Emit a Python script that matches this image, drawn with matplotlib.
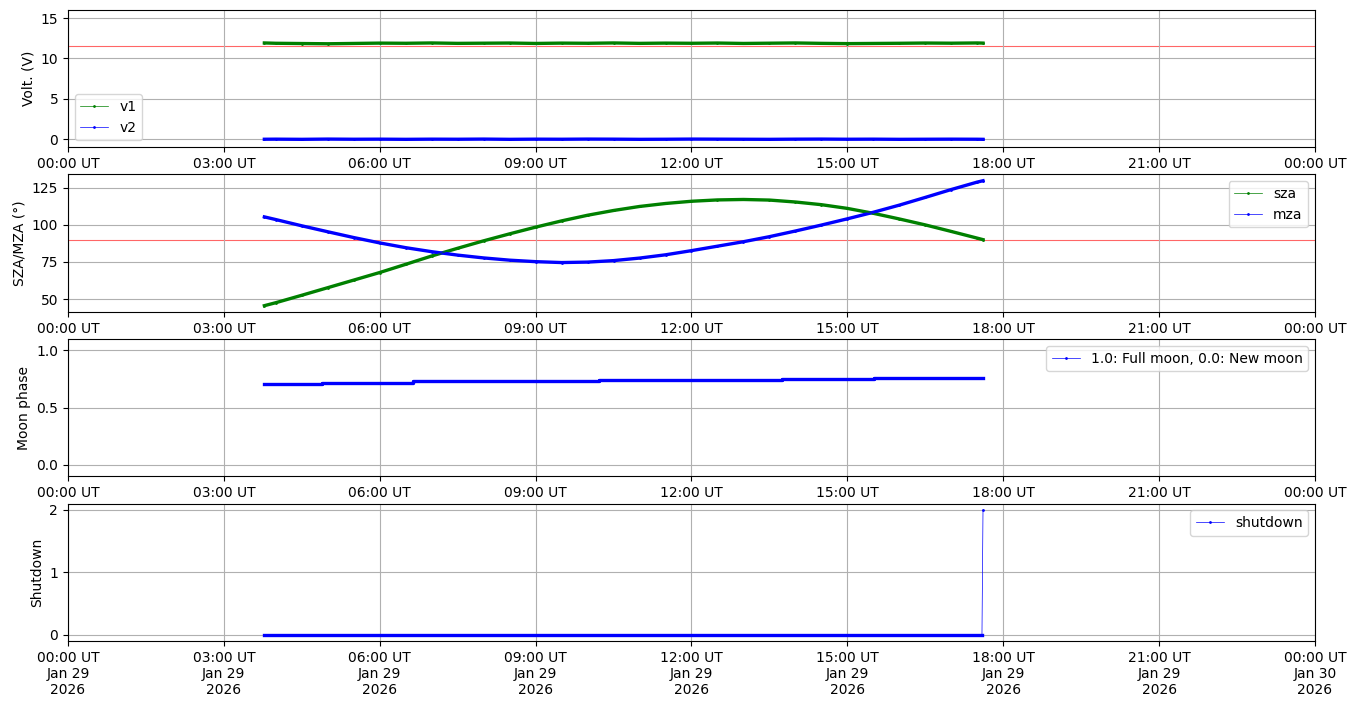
import datetime as dt
import matplotlib
matplotlib.use('Agg')
import matplotlib.pyplot as plt
import matplotlib.dates as mdates

day = dt.datetime(2026, 1, 29)

# sample times (hours UT) for the housekeeping series
hours = [3.78, 4.0, 4.5, 5.0, 5.5, 6.0, 6.5, 7.0, 7.5, 8.0, 8.5, 9.0, 9.5, 10.0, 10.5,
         11.0, 11.5, 12.0, 12.5, 13.0, 13.5, 14.0, 14.5, 15.0, 15.5, 16.0, 16.5, 17.0,
         17.5, 17.61]

v1 = [11.92, 11.88, 11.85, 11.82, 11.86, 11.90, 11.88, 11.92, 11.87, 11.89, 11.91, 11.86,
      11.90, 11.88, 11.92, 11.87, 11.90, 11.88, 11.91, 11.86, 11.89, 11.92, 11.87, 11.84,
      11.86, 11.88, 11.91, 11.89, 11.92, 11.90]
v2 = [0.01, 0.02, 0.0, 0.03, 0.01, 0.02, 0.0, 0.02, 0.01, 0.03, 0.0, 0.02, 0.01, 0.03, 0.02,
      0.0, 0.01, 0.03, 0.02, 0.01, 0.0, 0.02, 0.03, 0.01, 0.02, 0.0, 0.01, 0.02, 0.01, 0.0]

sza = [45.6, 47.6, 52.6, 57.7, 62.8, 67.9, 73.4, 79.0, 84.2, 89.2, 93.9, 98.4, 102.6, 106.4,
       109.6, 112.3, 114.3, 115.8, 116.7, 117.0, 116.6, 115.3, 113.5, 111.0, 107.7, 103.9,
       99.9, 95.5, 91.0, 90.0]
mza = [105.3, 103.5, 99.3, 95.3, 91.4, 87.8, 84.6, 81.9, 79.6, 77.7, 76.2, 75.2, 74.6, 74.9,
       75.9, 77.6, 79.8, 82.6, 85.6, 88.6, 92.0, 95.8, 99.8, 104.0, 108.4, 113.2, 118.4,
       123.7, 128.7, 129.6]

# moon phase changes in steps of 0.01
moon_hours = [3.78, 4.88, 6.65, 10.22, 13.74, 15.52, 17.61]
moon_phase = [0.71, 0.72, 0.73, 0.74, 0.75, 0.76, 0.76]

shut_hours = [3.78, 17.59, 17.61]
shutdown = [0, 0, 2]

v_limit = 11.5
sza_limit = 90


def to_time(hh):
    return [day + dt.timedelta(hours=h) for h in hh]


t = to_time(hours)
t_moon = to_time(moon_hours)
t_shut = to_time(shut_hours)

fig, axes = plt.subplots(4, 1, figsize=(13.56, 7.07), dpi=100)
fig.subplots_adjust(left=0.0501, right=0.9698, top=0.9859, bottom=0.0934, hspace=0.197)

band = 2.4  # the dense 1-min samples read as a thick band

ax = axes[0]
ax.axhline(v_limit, color='red', lw=0.8, alpha=0.6, zorder=1)
ax.plot(t, v1, color='green', lw=band, zorder=2)
ax.plot(t, v2, color='blue', lw=band, zorder=2)
ax.plot(t, v1, '.-', color='green', lw=0.5, ms=2, label='v1', zorder=3)
ax.plot(t, v2, '.-', color='blue', lw=0.5, ms=2, label='v2', zorder=3)
ax.set_ylim(-1, 16)
ax.set_ylabel('Volt. (V)')
ax.legend(loc='lower left')

ax = axes[1]
ax.axhline(sza_limit, color='red', lw=0.8, alpha=0.6, zorder=1)
ax.plot(t, sza, color='green', lw=band, zorder=2)
ax.plot(t, mza, color='blue', lw=band, zorder=2)
ax.plot(t, sza, '.-', color='green', lw=0.5, ms=2, label='sza', zorder=3)
ax.plot(t, mza, '.-', color='blue', lw=0.5, ms=2, label='mza', zorder=3)
ax.set_ylabel('SZA/MZA (°)')
ax.legend(loc='upper right')

ax = axes[2]
ax.plot(t_moon, moon_phase, color='blue', lw=band, drawstyle='steps-post', zorder=2)
ax.plot(t_moon, moon_phase, '.-', color='blue', lw=0.5, ms=2, drawstyle='steps-post',
        label='1.0: Full moon, 0.0: New moon', zorder=3)
ax.set_ylim(-0.1, 1.1)
ax.set_yticks([0.0, 0.5, 1.0])
ax.set_ylabel('Moon phase')
ax.legend(loc='upper right')

ax = axes[3]
ax.plot(t_shut[:2], shutdown[:2], color='blue', lw=band, zorder=2)
ax.plot(t_shut, shutdown, '.-', color='blue', lw=0.5, ms=2, label='shutdown', zorder=3)
ax.set_ylabel('Shutdown')
ax.legend(loc='upper right')

for i, ax in enumerate(axes):
    ax.set_xlim(day, day + dt.timedelta(days=1))
    ax.xaxis.set_major_locator(mdates.HourLocator(byhour=range(0, 24, 3)))
    if i == 3:
        ax.xaxis.set_major_formatter(mdates.DateFormatter('%H:%M UT\n%b %d\n%Y'))
    else:
        ax.xaxis.set_major_formatter(mdates.DateFormatter('%H:%M UT'))
    ax.grid(True)

plt.savefig('out.png')
